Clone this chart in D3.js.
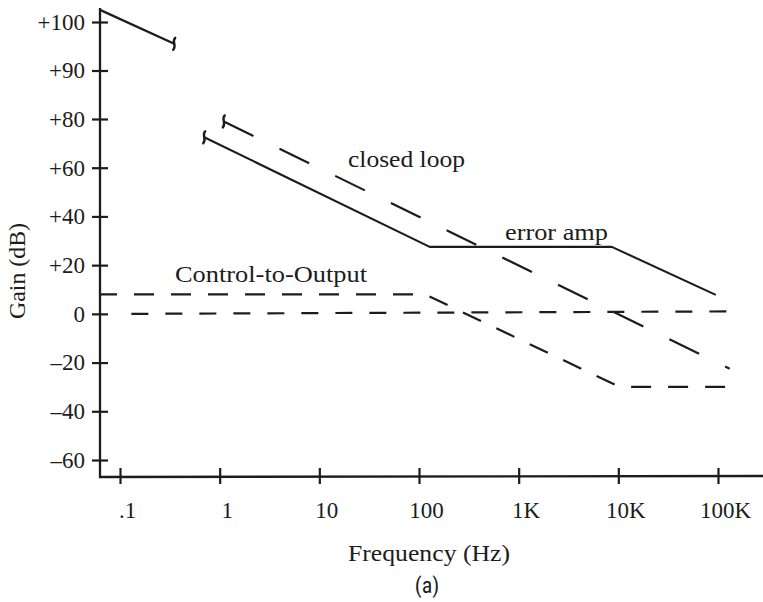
<!DOCTYPE html>
<html>
<head>
<meta charset="utf-8">
<script src="https://cdn.jsdelivr.net/npm/d3@7"></script>
<style>
  body { margin: 0; background: #fff; }
  svg { display: block; }
  .serif { font-family: "Liberation Serif", "Times New Roman", serif; fill: #1c1c1c; }
</style>
</head>
<body>
<svg id="chart" width="763" height="602"></svg>
<script>
// Axis ticks
const freqTicks = [0.1, 1, 10, 100, 1000, 10000, 100000];
const freqLabels = [".1", "1", "10", "100", "1K", "10K", "100K"];
const gainTicks = [100, 90, 80, 60, 40, 20, 0, -20, -40, -60];
const gainLabels = ["+100", "+90", "+80", "+60", "+40", "+20", "0", "–20", "–40", "–60"];

// Error amplifier gain above the axis break (Hz, dB)
const errorAmpHighF = [0.063, 0.35];
const errorAmpHighG = [102.5, 95.5];
// Error amplifier gain below the break
const errorAmpF = [0.7, 128, 8600, 95000];
const errorAmpG = [72.5, 27.5, 27.5, 7.8];
// Closed-loop gain
const closedLoopF = [1.1, 131000];
const closedLoopG = [79, -22.5];
// Control-to-output gain
const controlF = [0.063, 115, 10300, 137000];
const controlG = [8, 8, -30, -30];
// 0 dB reference
const zeroF = [0.13, 125000];
const zeroG = [0, 1];

const svg = d3.select("#chart");
svg.append("rect").attr("width", 763).attr("height", 602).attr("fill", "#fff");

const x = d3.scaleLog().domain([0.1, 100000]).range([120, 718]);
// Broken gain axis: 10 dB per division above +80, 20 dB per division below
const y = d3.scaleLinear().domain([-60, 80, 100]).range([460, 119, 22]);

const ink = "#1c1c1c";
const pts = (fs, gs) => d3.zip(fs, gs).map(([f, g]) => ({ f, g }));
const line = d3.line().x(d => x(d.f)).y(d => y(d.g));

// Axis lines
const x0 = x(0.063), yBase = 477;
svg.append("path")
  .attr("d", `M${x0},8 L${x0},${yBase} L763,${yBase - 1}`)
  .attr("fill", "none").attr("stroke", ink).attr("stroke-width", 2.3);

// Gain axis ticks (crossing the axis line)
const yAxis = svg.append("g").attr("transform", `translate(${x0 + 8},0)`)
  .call(d3.axisLeft(y).tickValues(gainTicks)
    .tickFormat((d, i) => gainLabels[i]).tickSize(16).tickPadding(7));
yAxis.select(".domain").remove();
yAxis.selectAll("line").attr("stroke", ink).attr("stroke-width", 2.2);
yAxis.selectAll("text").attr("class", "serif").attr("font-size", 23);

// Frequency axis ticks
const xAxis = svg.append("g").attr("transform", `translate(0,${yBase - 9})`)
  .call(d3.axisBottom(x).tickValues(freqTicks)
    .tickFormat((d, i) => freqLabels[i]).tickSize(16));
xAxis.select(".domain").remove();
xAxis.selectAll("line").attr("stroke", ink).attr("stroke-width", 2.2);
xAxis.selectAll("text").attr("class", "serif").attr("font-size", 23)
  .attr("y", 50).attr("dy", null).attr("dx", 7);

// Curves
const curves = [
  { data: pts(errorAmpHighF, errorAmpHighG), dash: null, w: 2.2 },
  { data: pts(errorAmpF, errorAmpG), dash: null, w: 2.1 },
  { data: pts(closedLoopF, closedLoopG), dash: "33,29", w: 2.2 },
  { data: pts(controlF, controlG), dash: "20,17", off: 3, w: 2.2 },
  { data: pts(zeroF, zeroG), dash: "17,17", w: 2.2 }
];
svg.append("g").selectAll("path").data(curves).join("path")
  .attr("d", d => line(d.data))
  .attr("fill", "none").attr("stroke", ink)
  .attr("stroke-width", d => d.w)
  .attr("stroke-dasharray", d => d.dash)
  .attr("stroke-dashoffset", d => d.off || 0)
  .attr("stroke-linejoin", "round");

// Break marks where a curve is cut by the axis break
const breaks = [
  { f: errorAmpHighF[1], g: errorAmpHighG[1] },
  { f: errorAmpF[0], g: errorAmpG[0] },
  { f: closedLoopF[0], g: closedLoopG[0] }
];
svg.append("g").selectAll("path").data(breaks).join("path")
  .attr("d", d => {
    const px = x(d.f), py = y(d.g);
    return `M${px + 1},${py - 6} C${px - 3},${py - 2} ${px + 3},${py + 1} ${px - 1},${py + 6}`;
  })
  .attr("fill", "none").attr("stroke", ink).attr("stroke-width", 2.4)
  .attr("stroke-linecap", "round");

// Curve labels
const notes = [
  { t: "closed loop", x: 348, y: 167, len: 117 },
  { t: "error amp", x: 505, y: 240, len: 103 },
  { t: "Control-to-Output", x: 175, y: 282, len: 192 }
];
svg.append("g").selectAll("text").data(notes).join("text")
  .attr("class", "serif").attr("font-size", 23)
  .attr("x", d => d.x).attr("y", d => d.y)
  .attr("textLength", d => d.len).attr("lengthAdjust", "spacingAndGlyphs")
  .text(d => d.t);

// Axis titles
svg.append("text").attr("class", "serif").attr("font-size", 23)
  .attr("x", 429).attr("y", 561).attr("text-anchor", "middle")
  .attr("textLength", 162).attr("lengthAdjust", "spacingAndGlyphs")
  .text("Frequency (Hz)");
svg.append("text").attr("class", "serif").attr("font-size", 23)
  .attr("transform", "translate(25,271) rotate(-90)").attr("text-anchor", "middle")
  .attr("textLength", 96).attr("lengthAdjust", "spacingAndGlyphs")
  .text("Gain (dB)");

svg.append("text")
  .attr("x", 427).attr("y", 593).attr("text-anchor", "middle")
  .attr("font-family", "'Liberation Sans Narrow', 'Roboto Condensed', 'Liberation Sans', sans-serif")
  .attr("font-size", 22).attr("fill", ink)
  .text("(a)");
</script>
</body>
</html>
